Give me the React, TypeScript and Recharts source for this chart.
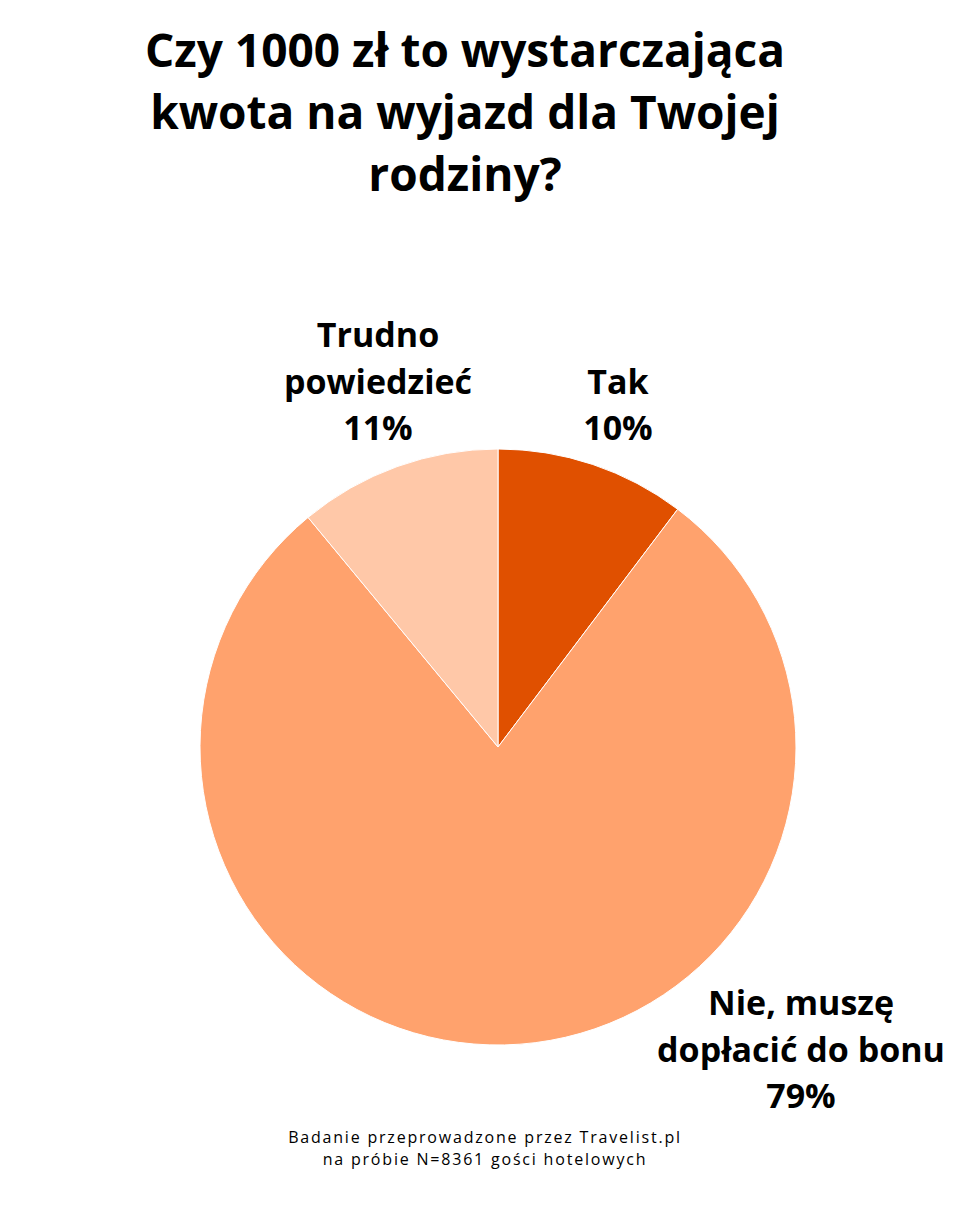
import React from "react";
import { PieChart, Pie, Cell } from "recharts";

const categories = ["Tak", "Nie, muszę dopłacić do bonu", "Trudno powiedzieć"];
const labelLines = [["Tak"], ["Nie, muszę", "dopłacić do bonu"], ["Trudno", "powiedzieć"]];
const shares = [10.3, 78.7, 11];
const colors = ["#E05000", "#FFA26D", "#FFC8A8"];

const titleLines = ["Czy 1000 zł to wystarczająca", "kwota na wyjazd dla Twojej", "rodziny?"];
const footerLines = ["Badanie przeprowadzone przez Travelist.pl", "na próbie N=8361 gości hotelowych"];

const data = categories.map((name, i) => ({ name, value: shares[i], lines: labelLines[i] }));

// label anchor (last line baseline, centered) relative to pie center
const labelOffsets = [
  { dx: 120, dy: -307 },
  { dx: 303, dy: 361 },
  { dx: -120, dy: -307 },
];

const FONT = "'Open Sans', 'Noto Sans', sans-serif";

function renderLabel(props: any) {
  const { cx, cy, index } = props;
  const off = labelOffsets[index];
  const lines: string[] = [...data[index].lines, `${Math.round(data[index].value)}%`];
  const lh = 46.5;
  const x = cx + off.dx;
  const baseY = cy + off.dy;
  return (
    <text
      key={`lbl-${index}`}
      x={x}
      y={baseY}
      textAnchor="middle"
      fill="#000"
      fontFamily={FONT}
      fontWeight={700}
      fontSize={34}
    >
      {lines.map((l, i) => (
        <tspan key={i} x={x} y={baseY - (lines.length - 1 - i) * lh}>
          {l}
        </tspan>
      ))}
    </text>
  );
}

export default function App() {
  return (
    <div
      style={{
        position: "absolute",
        left: 0,
        top: 0,
        width: 960,
        height: 1206,
        background: "#fff",
        fontFamily: FONT,
      }}
    >
      <div
        style={{
          position: "absolute",
          left: 0,
          top: 18,
          width: 930,
          textAlign: "center",
          fontWeight: 700,
          fontSize: 46,
          lineHeight: "62px",
          color: "#000",
        }}
      >
        {titleLines.map((t) => (
          <div key={t}>{t}</div>
        ))}
      </div>
      <div style={{ position: "absolute", left: 0, top: 0 }}>
        <PieChart width={960} height={1206} margin={{ top: 0, right: 0, bottom: 0, left: 0 }}>
          <Pie
            data={data}
            dataKey="value"
            nameKey="name"
            cx={498}
            cy={747}
            outerRadius={298}
            startAngle={90}
            endAngle={-270}
            stroke="#fff"
            strokeWidth={1}
            label={renderLabel}
            labelLine={false}
            isAnimationActive={false}
          >
            {data.map((d, i) => (
              <Cell key={d.name} fill={colors[i]} />
            ))}
          </Pie>
        </PieChart>
      </div>
      <div
        style={{
          position: "absolute",
          left: 0,
          top: 1126,
          width: 970,
          textAlign: "center",
          fontSize: 16,
          lineHeight: "22px",
          letterSpacing: 1.8,
          color: "#000",
        }}
      >
        {footerLines.map((t) => (
          <div key={t}>{t}</div>
        ))}
      </div>
    </div>
  );
}
